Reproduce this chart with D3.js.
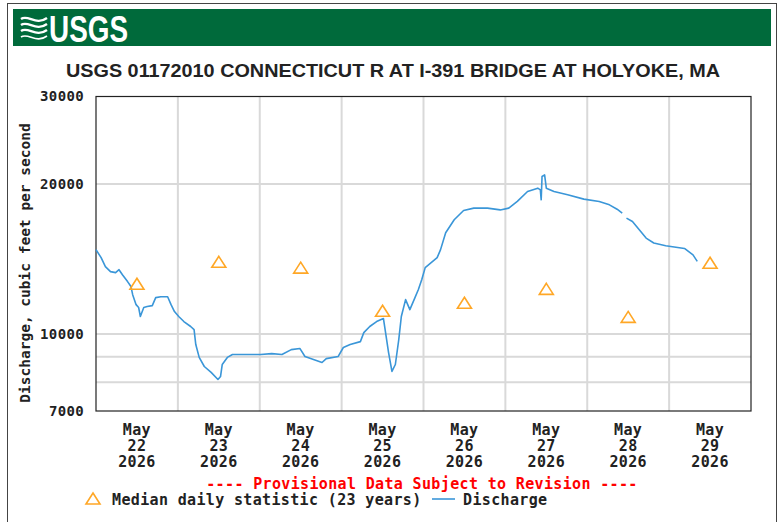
<!DOCTYPE html>
<html>
<head>
<meta charset="utf-8">
<script src="https://cdn.jsdelivr.net/npm/d3@7"></script>
<style>
  body { margin: 0; background: #fff; }
  svg { display: block; }
  .mono { font-family: "DejaVu Sans Mono", "Liberation Mono", monospace; font-weight: bold; letter-spacing: 0.35px; }
</style>
</head>
<body>
<svg id="chart" width="779" height="522"></svg>
<script>
// discharge readings (instantaneous)
var dischargeTimes = [
  "2026-05-22 00:00","2026-05-22 01:30","2026-05-22 02:45","2026-05-22 04:15","2026-05-22 05:45",
  "2026-05-22 06:45","2026-05-22 07:45","2026-05-22 09:15","2026-05-22 10:15","2026-05-22 10:45",
  "2026-05-22 11:45","2026-05-22 12:30","2026-05-22 13:00","2026-05-22 14:00","2026-05-22 15:00",
  "2026-05-22 16:30","2026-05-22 17:30","2026-05-22 19:00","2026-05-22 21:00","2026-05-22 22:00",
  "2026-05-22 23:00","2026-05-23 00:15","2026-05-23 01:45","2026-05-23 03:45","2026-05-23 04:45",
  "2026-05-23 05:15","2026-05-23 06:15","2026-05-23 07:45","2026-05-23 09:45","2026-05-23 11:45",
  "2026-05-23 12:30","2026-05-23 13:00","2026-05-23 14:30","2026-05-23 16:00","2026-05-23 18:30",
  "2026-05-24 00:15","2026-05-24 03:30","2026-05-24 06:30","2026-05-24 09:15","2026-05-24 11:45",
  "2026-05-24 13:15","2026-05-24 15:45","2026-05-24 18:15","2026-05-24 19:30","2026-05-24 23:00",
  "2026-05-25 00:30","2026-05-25 02:30","2026-05-25 05:30","2026-05-25 06:30","2026-05-25 08:15",
  "2026-05-25 10:15","2026-05-25 12:15","2026-05-25 12:45","2026-05-25 13:45","2026-05-25 14:45",
  "2026-05-25 15:45","2026-05-25 16:45","2026-05-25 17:30","2026-05-25 18:45","2026-05-25 20:00",
  "2026-05-25 21:30","2026-05-25 22:30","2026-05-25 23:30","2026-05-26 00:30","2026-05-26 04:00",
  "2026-05-26 05:00","2026-05-26 06:30","2026-05-26 09:00","2026-05-26 11:45","2026-05-26 14:45",
  "2026-05-26 18:45","2026-05-26 22:30","2026-05-27 01:00","2026-05-27 03:30","2026-05-27 06:30",
  "2026-05-27 09:30","2026-05-27 10:15","2026-05-27 10:30","2026-05-27 10:45","2026-05-27 11:30",
  "2026-05-27 12:00","2026-05-27 14:15","2026-05-27 18:15","2026-05-27 23:00","2026-05-28 03:30",
  "2026-05-28 06:30","2026-05-28 08:45","2026-05-28 10:15","2026-05-28 10:45","2026-05-28 11:30",
  "2026-05-28 13:15","2026-05-28 15:15","2026-05-28 17:15","2026-05-28 19:30","2026-05-28 23:00",
  "2026-05-29 01:30","2026-05-29 04:30","2026-05-29 07:00","2026-05-29 08:15"
];
var dischargeValues = [
  14770,14230,13650,13340,13280,
  13460,13150,12740,12450,11990,
  11450,11300,10840,11300,11350,
  11400,11830,11880,11880,11450,
  11090,10840,10590,10350,10200,
  9520,8970,8600,8370,8100,
  8210,8680,8970,9090,9090,
  9090,9130,9090,9300,9350,
  9010,8880,8760,8920,9010,
  9390,9520,9650,10060,10350,
  10590,10740,10200,9180,8410,
  8680,9740,10840,11720,11190,
  11830,12280,12860,13590,14230,
  14770,15970,16960,17700,17900,
  17900,17750,17900,18460,19330,
  19630,19480,18600,20720,20880,
  19630,19330,19040,18660,18460,
  18170,17810,17490,null,17090,
  16820,16190,15580,15230,15040,
  14950,14850,14420,13990
];

// median daily statistic (23 years), plotted at noon
var medianDays = ["2026-05-22","2026-05-23","2026-05-24","2026-05-25","2026-05-26","2026-05-27","2026-05-28","2026-05-29"];
var medianValues = [12610, 13960, 13590, 11130, 11550, 12320, 10820, 13900];

var yTickValues = [7000, 10000, 20000, 30000];
var yGridValues = [8000, 9000, 10000, 20000];

var titleText = "USGS 01172010 CONNECTICUT R AT I-391 BRIDGE AT HOLYOKE, MA";

var parseTime = d3.timeParse("%Y-%m-%d %H:%M");
var parseDay = d3.timeParse("%Y-%m-%d");

var svg = d3.select("#chart");

// outer frame
svg.append("rect")
  .attr("x", 7.5).attr("y", 3.5).attr("width", 769).attr("height", 540)
  .attr("fill", "none").attr("stroke", "#444").attr("stroke-width", 1);

// header bar
svg.append("rect")
  .attr("x", 13).attr("y", 9).attr("width", 758).attr("height", 37)
  .attr("fill", "#006a3b");

// logo waves
var logo = svg.append("g").attr("fill", "none").attr("stroke", "#fff").attr("stroke-width", 2.4);
[0, 6, 12, 18].forEach(function (off, i) {
  logo.append("path")
    .attr("d", "M21," + (19 + off) + " C28," + (14 + off) + " 36," + (26 + off) + " 47," + (18 + off))
    .attr("stroke-width", i == 3 ? 1.6 : 2.4);
});
svg.append("text")
  .attr("x", 49).attr("y", 42)
  .attr("font-family", "'Liberation Sans Narrow', 'Liberation Sans', Arial, sans-serif")
  .attr("font-weight", "bold").attr("font-size", 36)
  .attr("textLength", 79).attr("lengthAdjust", "spacingAndGlyphs")
  .attr("fill", "#fff").text("USGS");

// title
svg.append("text")
  .attr("x", 393).attr("y", 77).attr("text-anchor", "middle")
  .attr("font-family", "'Liberation Sans', Arial, sans-serif")
  .attr("font-weight", "bold").attr("font-size", 18)
  .attr("textLength", 654).attr("lengthAdjust", "spacingAndGlyphs")
  .attr("fill", "#222").text(titleText);

var plotL = 96, plotR = 751, plotT = 96.5, plotB = 411;

var x = d3.scaleTime()
  .domain([new Date(2026, 4, 22), new Date(2026, 4, 30)])
  .range([plotL, plotR]);
var y = d3.scaleLog()
  .domain([7000, 30000])
  .range([plotB, plotT]);

// grid
var grid = svg.append("g").attr("stroke", "#d9d9d9").attr("stroke-width", 2);
grid.selectAll(".vg")
  .data(x.ticks(d3.timeDay.every(1)).slice(1, -1))
  .join("line")
  .attr("x1", d => x(d)).attr("x2", d => x(d))
  .attr("y1", plotT).attr("y2", plotB);
grid.selectAll(".hg")
  .data(yGridValues)
  .join("line")
  .attr("x1", plotL).attr("x2", plotR)
  .attr("y1", d => y(d)).attr("y2", d => y(d));

// plot frame
svg.append("rect")
  .attr("x", plotL).attr("y", plotT).attr("width", plotR - plotL).attr("height", plotB - plotT)
  .attr("fill", "none").attr("stroke", "#222").attr("stroke-width", 1.2);

// y axis labels
var yAxis = d3.axisLeft(y).tickValues(yTickValues).tickSize(0).tickPadding(12).tickFormat(d3.format("d"));
var ya = svg.append("g").attr("transform", "translate(" + plotL + ",0)").call(yAxis);
ya.select(".domain").remove();
ya.selectAll("text")
  .attr("class", "mono").attr("font-size", 14).attr("fill", "#222");

svg.append("text")
  .attr("class", "mono")
  .attr("transform", "translate(30,263) rotate(-90)")
  .attr("text-anchor", "middle").attr("font-size", 14.5)
  .attr("letter-spacing", 0).style("letter-spacing", "0px")
  .attr("fill", "#222")
  .text("Discharge, cubic feet per second");

// x labels: month / day / year at noon
var days = medianDays.map(parseDay);
var xl = svg.append("g").selectAll("text")
  .data(days)
  .join("text")
  .attr("class", "mono")
  .attr("text-anchor", "middle").attr("font-size", 15)
  .attr("fill", "#222")
  .attr("transform", d => "translate(" + x(d3.timeHour.offset(d, 12)) + ",0)");
xl.append("tspan").attr("x", 0).attr("y", 435).text(d => d3.timeFormat("%b")(d));
xl.append("tspan").attr("x", 0).attr("y", 451).text(d => d3.timeFormat("%d")(d));
xl.append("tspan").attr("x", 0).attr("y", 467).text(d => d3.timeFormat("%Y")(d));

// discharge line
var series = dischargeTimes.map((t, i) => ({t: parseTime(t), v: dischargeValues[i]}));
var line = d3.line()
  .defined(d => d.v != null)
  .x(d => x(d.t))
  .y(d => y(d.v));
svg.append("path")
  .attr("d", line(series))
  .attr("fill", "none")
  .attr("stroke", "#3a96d8")
  .attr("stroke-width", 1.6)
  .attr("stroke-linejoin", "round");

// median triangles (open, a bit wider than tall)
var tri = "M0,-6L7,5L-7,5Z";
svg.selectAll(".med")
  .data(medianDays.map((d, i) => ({t: d3.timeHour.offset(parseDay(d), 12), v: medianValues[i]})))
  .join("path")
  .attr("d", tri)
  .attr("transform", d => "translate(" + x(d.t) + "," + (y(d.v) + 0.5) + ")")
  .attr("fill", "none").attr("stroke", "#ffa726").attr("stroke-width", 1.6);

// provisional note
svg.append("text")
  .attr("class", "mono")
  .attr("x", 422).attr("y", 489).attr("text-anchor", "middle")
  .attr("font-size", 15).attr("fill", "#f00")
  .text("---- Provisional Data Subject to Revision ----");

// legend
svg.append("path")
  .attr("d", tri)
  .attr("transform", "translate(93,499)")
  .attr("fill", "none").attr("stroke", "#ffa726").attr("stroke-width", 1.6);
svg.append("text")
  .attr("class", "mono")
  .attr("x", 112).attr("y", 505)
  .attr("font-size", 15).attr("fill", "#222")
  .text("Median daily statistic (23 years)");
svg.append("line")
  .attr("x1", 432).attr("x2", 455).attr("y1", 499).attr("y2", 499)
  .attr("stroke", "#3a96d8").attr("stroke-width", 1.6);
svg.append("text")
  .attr("class", "mono")
  .attr("x", 463).attr("y", 505)
  .attr("font-size", 15).attr("fill", "#222")
  .text("Discharge");
</script>
</body>
</html>
